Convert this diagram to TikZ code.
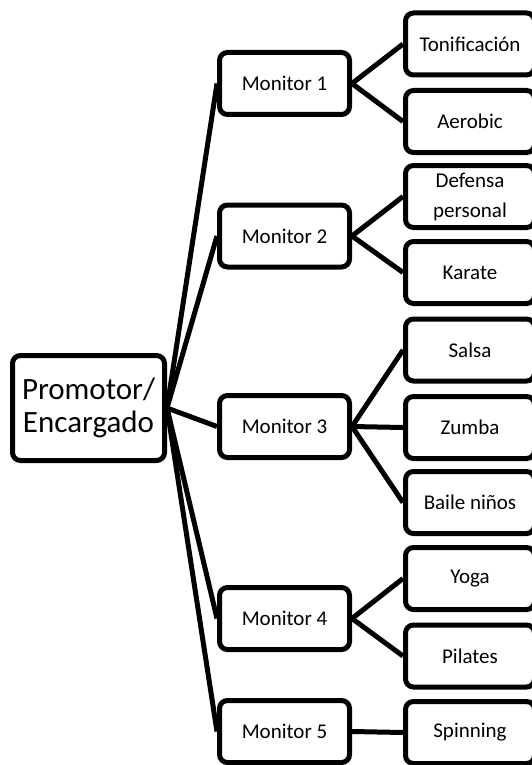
\documentclass[tikz,border=0pt]{standalone}
\usepackage{fontspec}
\setmainfont{Carlito}
\pgfdeclarelayer{bg}
\pgfsetlayers{bg,main}
\begin{document}
\begin{tikzpicture}[x=1pt,y=-1pt,
	box/.style={draw=black,line width=5pt,rounded corners=8pt,fill=white,align=center,inner sep=0pt},
	chief/.style={box,minimum width=152pt,minimum height=105pt,font=\fontsize{31}{33}\selectfont},
	monitor/.style={box,minimum width=130pt,minimum height=62pt,font=\fontsize{21}{30}\selectfont},
	task/.style={box,minimum width=129pt,minimum height=62pt,font=\fontsize{21}{30}\selectfont},
	link/.style={line width=5pt}]
\useasboundingbox (0,0) rectangle (532,765);
\node[chief] (P) at (88.5,408) {Promotor/\\Encargado};
\node[monitor] (M1) at (284.5,83.5) {Monitor 1};
\node[monitor] (M2) at (284.5,236) {Monitor 2};
\node[monitor] (M3) at (284.5,426.5) {Monitor 3};
\node[monitor] (M4) at (284.5,618.5) {Monitor 4};
\node[monitor] (M5) at (284.5,731.5) {Monitor 5};
\node[task] (T1) at (470,44) {Tonificación};
\node[task] (T2) at (470,121.5) {Aerobic};
\node[task] (T3) at (470,196.5) {Defensa\\personal};
\node[task] (T4) at (470,272.5) {Karate};
\node[task] (T5) at (470,350) {Salsa};
\node[task] (T6) at (470,427.5) {Zumba};
\node[task] (T7) at (470,502.5) {Baile niños};
\node[task] (T8) at (470,578.5) {Yoga};
\node[task] (T9) at (470,656) {Pilates};
\node[task] (T10) at (470,732.5) {Spinning};
\begin{pgfonlayer}{bg}
\foreach \m in {M1,M2,M3,M4,M5}
	\draw[link] (P.east) -- (\m.west);
\foreach \m/\t in {M1/T1,M1/T2,M2/T3,M2/T4,M3/T5,M3/T6,M3/T7,M4/T8,M4/T9,M5/T10}
	\draw[link] (\m.east) -- (\t.west);
\end{pgfonlayer}
\end{tikzpicture}
\end{document}
